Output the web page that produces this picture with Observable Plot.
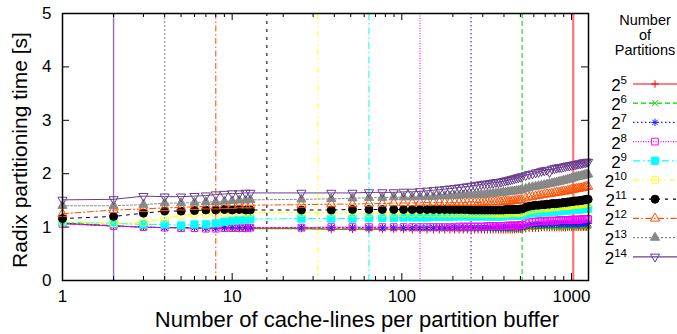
<!DOCTYPE html>
<html><head><meta charset="utf-8">
<script src="https://cdn.jsdelivr.net/npm/d3@7"></script>
<script src="https://cdn.jsdelivr.net/npm/@observablehq/plot@0.6"></script>
<style>
body{margin:0;background:#fff;}
#chart{width:677px;height:334px;overflow:hidden;}
</style></head><body><div id="chart"></div>
<script>
// ---- data ----
const xs = [1,2,3,4,5,6,7,8,9,10,11,12,
  12.8,25.6,38.4,51.2,64,76.8,89.6,102.4,115.2,128,140.8,153.6,166.4,179.2,192,204.8,217.6,230.4,243.2,
  256,268.8,281.6,294.4,307.2,320,332.8,345.6,358.4,371.2,384,396.8,409.6,422.4,435.2,448,460.8,473.6,486.4,499.2,512,
  537.6,563.2,588.8,614.4,640,665.6,691.2,716.8,742.4,
  768,793.6,819.2,844.8,870.4,896,921.6,947.2,972.8,998.4,1024,1049.6,1075.2,1100.8,1126.4,1152,1177.6,1203.2,1228.8,1254.4];

const t5 = [1.07,1.02,1.00,0.99,0.99,0.98,0.98,0.98,0.98,0.98,0.97,0.97,
  0.97,0.97,0.96,0.96,0.96,0.96,0.96,0.96,0.95,0.95,0.95,0.95,0.95,0.95,0.95,0.95,0.95,0.95,0.95,
  0.95,0.95,0.95,0.95,0.95,0.95,0.95,0.95,0.95,0.95,0.95,0.95,0.95,0.95,0.95,0.95,0.95,0.96,0.96,0.96,0.96,
  0.97,0.98,0.98,0.98,0.98,0.99,0.99,0.99,0.99,
  0.99,0.99,0.99,0.99,0.99,0.99,0.99,1.00,1.00,1.00,1.00,1.00,1.00,1.00,1.00,1.00,1.00,1.00,1.00,1.00];
const t6 = [1.08,1.03,1.00,0.99,0.99,0.99,0.98,0.98,0.98,0.98,0.98,0.98,
  0.98,0.97,0.97,0.97,0.97,0.97,0.97,0.97,0.97,0.97,0.97,0.97,0.97,0.97,0.97,0.97,0.97,0.97,0.97,
  0.97,0.97,0.97,0.97,0.97,0.97,0.97,0.97,0.97,0.97,0.97,0.97,0.97,0.97,0.97,0.97,0.97,0.97,0.97,0.97,0.98,
  0.99,1.00,1.00,1.00,1.00,1.01,1.01,1.01,1.01,
  1.01,1.01,1.01,1.01,1.01,1.01,1.01,1.02,1.02,1.02,1.02,1.02,1.02,1.02,1.02,1.02,1.02,1.02,1.02,1.02];
const t7 = [1.07,1.02,1.00,0.99,0.99,0.99,0.98,0.98,0.99,0.99,0.99,0.99,
  0.99,0.99,0.99,0.99,0.99,0.99,0.99,0.99,0.99,0.99,0.99,0.99,0.99,0.99,0.99,0.99,0.99,0.99,0.99,
  0.99,0.99,0.99,0.99,0.99,0.99,0.99,0.99,0.99,0.99,0.99,0.99,0.99,0.99,1.00,1.00,1.00,1.00,1.00,1.00,1.00,
  1.03,1.04,1.05,1.05,1.05,1.05,1.05,1.05,1.05,
  1.05,1.06,1.06,1.06,1.06,1.06,1.06,1.06,1.06,1.06,1.06,1.06,1.06,1.06,1.07,1.07,1.07,1.07,1.07,1.07];
const t8 = [1.06,1.02,1.00,0.99,0.98,0.98,0.97,0.97,0.98,0.98,0.98,0.98,
  0.99,0.99,1.00,1.00,1.00,1.00,1.00,1.00,1.00,1.00,1.00,1.00,1.00,1.00,1.00,1.00,1.01,1.01,1.01,
  1.01,1.01,1.01,1.01,1.01,1.02,1.02,1.02,1.02,1.02,1.02,1.02,1.02,1.03,1.03,1.03,1.03,1.03,1.03,1.04,1.04,
  1.07,1.09,1.10,1.10,1.11,1.11,1.11,1.12,1.12,
  1.12,1.12,1.12,1.13,1.13,1.13,1.13,1.13,1.13,1.14,1.14,1.14,1.14,1.14,1.14,1.15,1.15,1.15,1.15,1.15];
const t9 = [1.09,1.07,1.05,1.05,1.03,1.05,1.05,1.07,1.10,1.12,1.13,1.14,
  1.15,1.16,1.16,1.16,1.17,1.17,1.17,1.18,1.18,1.18,1.18,1.19,1.19,1.19,1.19,1.20,1.20,1.20,1.20,
  1.20,1.20,1.20,1.20,1.20,1.20,1.20,1.20,1.20,1.20,1.20,1.20,1.21,1.21,1.21,1.21,1.21,1.21,1.21,1.22,1.22,
  1.24,1.26,1.26,1.27,1.27,1.28,1.28,1.28,1.29,
  1.29,1.29,1.30,1.30,1.30,1.31,1.31,1.31,1.32,1.32,1.32,1.33,1.33,1.33,1.33,1.34,1.34,1.34,1.35,1.35];
const t10 = [1.10,1.07,1.09,1.16,1.22,1.24,1.25,1.26,1.26,1.26,1.27,1.27,
  1.27,1.27,1.27,1.26,1.26,1.26,1.26,1.26,1.26,1.26,1.26,1.26,1.26,1.26,1.26,1.26,1.26,1.26,1.26,
  1.26,1.26,1.26,1.26,1.26,1.26,1.26,1.26,1.26,1.26,1.26,1.26,1.26,1.26,1.27,1.27,1.27,1.27,1.27,1.27,1.27,
  1.30,1.32,1.33,1.34,1.35,1.35,1.36,1.36,1.37,
  1.37,1.38,1.38,1.39,1.39,1.40,1.40,1.40,1.41,1.41,1.42,1.42,1.42,1.43,1.43,1.43,1.44,1.44,1.45,1.45];
const t11 = [1.16,1.20,1.26,1.30,1.30,1.31,1.32,1.32,1.33,1.32,1.33,1.32,
  1.32,1.32,1.32,1.33,1.33,1.33,1.33,1.33,1.33,1.33,1.33,1.33,1.33,1.33,1.33,1.33,1.33,1.33,1.33,
  1.32,1.32,1.32,1.32,1.32,1.32,1.32,1.32,1.32,1.32,1.32,1.32,1.33,1.33,1.33,1.33,1.33,1.33,1.33,1.34,1.34,
  1.37,1.39,1.40,1.41,1.41,1.42,1.42,1.43,1.43,
  1.44,1.44,1.44,1.45,1.45,1.46,1.46,1.47,1.47,1.48,1.48,1.49,1.49,1.49,1.50,1.50,1.51,1.51,1.52,1.52];
const t12 = [1.25,1.32,1.34,1.36,1.37,1.38,1.39,1.39,1.40,1.40,1.41,1.41,
  1.41,1.42,1.43,1.43,1.44,1.44,1.45,1.45,1.45,1.46,1.46,1.46,1.46,1.46,1.46,1.46,1.46,1.46,1.46,
  1.46,1.46,1.46,1.46,1.46,1.47,1.47,1.47,1.47,1.47,1.47,1.48,1.48,1.48,1.48,1.49,1.49,1.50,1.50,1.51,1.51,
  1.54,1.56,1.57,1.58,1.59,1.60,1.61,1.62,1.62,
  1.63,1.64,1.65,1.65,1.66,1.67,1.67,1.68,1.69,1.70,1.70,1.71,1.72,1.72,1.73,1.73,1.74,1.75,1.76,1.76];
const t13 = [1.40,1.40,1.42,1.45,1.45,1.46,1.47,1.47,1.48,1.49,1.50,1.50,
  1.51,1.52,1.53,1.54,1.55,1.55,1.56,1.56,1.56,1.57,1.57,1.57,1.58,1.58,1.58,1.59,1.59,1.60,1.60,
  1.60,1.60,1.61,1.61,1.61,1.62,1.62,1.63,1.63,1.64,1.64,1.65,1.65,1.66,1.66,1.67,1.67,1.68,1.68,1.69,1.70,
  1.72,1.74,1.75,1.76,1.77,1.78,1.79,1.80,1.81,
  1.82,1.83,1.84,1.85,1.86,1.87,1.88,1.89,1.90,1.91,1.92,1.93,1.94,1.95,1.95,1.96,1.97,1.98,1.98,1.99];
const t14 = [1.51,1.52,1.58,1.57,1.57,1.58,1.59,1.61,1.62,1.63,1.63,1.64,
  1.64,1.64,1.64,1.64,1.65,1.65,1.65,1.66,1.66,1.67,1.68,1.69,1.70,1.71,1.72,1.73,1.74,1.75,1.76,
  1.77,1.78,1.79,1.80,1.81,1.81,1.82,1.83,1.84,1.84,1.85,1.86,1.87,1.88,1.89,1.90,1.91,1.92,1.93,1.94,1.95,
  1.97,1.99,2.00,2.02,2.03,2.05,2.06,2.07,2.03,
  2.09,2.10,2.11,2.12,2.12,2.13,2.14,2.15,2.15,2.16,2.17,2.17,2.18,2.19,2.19,2.20,2.21,2.21,2.22,2.22];

const exponents = [5,6,7,8,9,10,11,12,13,14];
const seriesValues = [t5,t6,t7,t8,t9,t10,t11,t12,t13,t14];
const xTicks = [1,10,100,1000];
const xMinorTicks = [2,3,4,5,6,7,8,9,20,30,40,50,60,70,80,90,200,300,400,500,600,700,800,900];
const yTicks = [0,1,2,3,4,5];
const xTitle = "Number of cache-lines per partition buffer";
const yTitle = "Radix partitioning time [s]";
const legendTitle = ["Number","of","Partitions"];

// ---- styles ----
const FONT = "'Liberation Sans', Arial, Helvetica, sans-serif";
const plusS = {draw(c,s){const r=Math.sqrt(s/Math.PI);c.moveTo(-r,0);c.lineTo(r,0);c.moveTo(0,-r);c.lineTo(0,r);}};
const timesS = {draw(c,s){const r=Math.sqrt(s/Math.PI)*0.8;c.moveTo(-r,-r);c.lineTo(r,r);c.moveTo(-r,r);c.lineTo(r,-r);}};
const starS = {draw(c,s){const r=Math.sqrt(s/Math.PI);const d=r*0.72;c.moveTo(-r,0);c.lineTo(r,0);c.moveTo(0,-r);c.lineTo(0,r);c.moveTo(-d,-d);c.lineTo(d,d);c.moveTo(-d,d);c.lineTo(d,-d);}};
const triDown = {draw(c,s){const y=-Math.sqrt(s/(Math.sqrt(3)*3));c.moveTo(0,-y*2);c.lineTo(-Math.sqrt(3)*y,y);c.lineTo(Math.sqrt(3)*y,y);c.closePath();}};

const styles = [
  {color:"#ff0000", dash:null,            sym:plusS,   filled:false, r:3.7},
  {color:"#00d000", dash:"5,3",           sym:timesS,  filled:false, r:3.7},
  {color:"#1a1aff", dash:"1.5,2.5",       sym:starS,   filled:false, r:3.7},
  {color:"#ff00ff", dash:"1,1.5",         sym:d3.symbolSquare, filled:false, r:3.8},
  {color:"#00ffff", dash:"7,3,1.5,3",     sym:d3.symbolSquare, filled:true, r:4.1},
  {color:"#ffff00", dash:"6,3,1.5,3,1.5,3", sym:d3.symbolCircle, filled:false, r:3.9},
  {color:"#000000", dash:"3,5",           sym:d3.symbolCircle, filled:true, r:4.0},
  {color:"#ff5000", dash:"6,2.5,1.5,2.5", sym:d3.symbolTriangle, filled:false, r:3.4},
  {color:"#888888", dash:"2,2",           sym:d3.symbolTriangle, filled:true, r:3.4},
  {color:"#6a3d8f", dash:null,            sym:triDown, filled:false, r:3.4}
];

const W = 677, H = 334;
const mL = 62, mR = 89, mT = 13, mB = 54;
const pw = W - mL - mR, ph = H - mT - mB;

const marks = [];
// vertical reference lines at 2^15 / partitions
exponents.forEach((e,i) => {
  const st = styles[i];
  marks.push(Plot.ruleX([2 ** (15 - e)], {stroke: st.color, strokeWidth: e === 5 ? 2.2 : 1.4, strokeOpacity: e === 5 ? 0.55 : 0.75, strokeDasharray: st.dash || undefined}));
});
// ticks (inward, mirrored)
marks.push(Plot.ruleX(xTicks, {stroke:"#000", strokeWidth:1, insetTop: ph - 7}));
marks.push(Plot.ruleX(xTicks, {stroke:"#000", strokeWidth:1, insetBottom: ph - 7}));
marks.push(Plot.ruleX(xMinorTicks, {stroke:"#000", strokeWidth:1, insetTop: ph - 4}));
marks.push(Plot.ruleX(xMinorTicks, {stroke:"#000", strokeWidth:1, insetBottom: ph - 4}));
marks.push(Plot.ruleY(yTicks, {stroke:"#000", strokeWidth:1, insetRight: pw - 7}));
marks.push(Plot.ruleY(yTicks, {stroke:"#000", strokeWidth:1, insetLeft: pw - 7}));

exponents.forEach((e,i) => {
  const st = styles[i];
  const data = xs.map((x,j) => ({x, y: seriesValues[i][j]}));
  marks.push(Plot.line(data, {x:"x", y:"y", stroke: st.color, strokeWidth: 1, strokeDasharray: st.dash || undefined}));
  marks.push(Plot.dot(data, {x:"x", y:"y", r: st.r, symbol: st.sym,
    stroke: st.color, strokeWidth: 1, fill: st.filled ? st.color : "none"}));
});
marks.push(Plot.frame({stroke:"#000", strokeWidth:1.5}));

const svg = Plot.plot({
  width: W, height: H,
  marginLeft: mL, marginRight: mR, marginTop: mT, marginBottom: mB,
  style: {fontFamily: FONT, fontSize: "17px", color: "#000", background: "#fff", overflow: "visible"},
  x: {type: "log", domain: [1, 1260], ticks: xTicks, tickFormat: d3.format("d"), tickSize: 0, tickPadding: 9, label: null},
  y: {domain: [0, 5], ticks: yTicks, tickFormat: d3.format("d"), tickSize: 0, tickPadding: 11, label: null},
  marks
});
document.getElementById("chart").appendChild(svg);

const g = d3.select(svg).append("g").attr("font-family", FONT).attr("fill", "#000");
// axis titles
g.append("text").attr("x", 357).attr("y", 327).attr("text-anchor", "middle").attr("font-size", 22).text(xTitle);
g.append("text").attr("transform", "translate(27,150) rotate(-90)").attr("text-anchor", "middle").attr("font-size", 21).text(yTitle);
// legend
legendTitle.forEach((t,i) => {
  g.append("text").attr("x", 645).attr("y", 25 + i*15).attr("text-anchor", "middle").attr("font-size", 14.5).text(t);
});
exponents.forEach((e,i) => {
  const st = styles[i];
  const y = 84 + i * 19.2;
  const t = g.append("text").attr("x", 627).attr("y", y + 7).attr("text-anchor", "end").attr("font-size", 17);
  t.append("tspan").text("2");
  t.append("tspan").attr("dy", -7).attr("font-size", 11.5).text(String(e));
  g.append("line").attr("x1", 633).attr("x2", 677).attr("y1", y).attr("y2", y)
    .attr("stroke", st.color).attr("stroke-width", 1.2).attr("stroke-dasharray", st.dash);
  g.append("path").attr("d", d3.symbol(st.sym, Math.PI * st.r * st.r)()).attr("transform", `translate(655,${y})`)
    .attr("stroke", st.color).attr("stroke-width", 1).attr("fill", st.filled ? st.color : "none");
});
</script></body></html>
